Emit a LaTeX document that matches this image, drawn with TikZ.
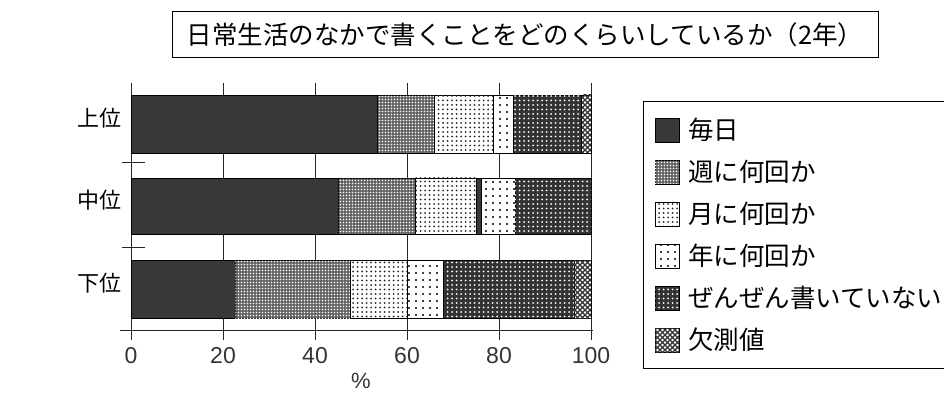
\documentclass[tikz,border=0pt]{standalone}
\usepackage{fontspec}
\newfontfamily\jp{Noto Sans CJK JP}
\newfontfamily\lat{Liberation Sans}
\usetikzlibrary{patterns}
\pgfdeclarepatternformonly{finedots}{\pgfpoint{-1pt}{-1pt}}{\pgfpoint{4pt}{4pt}}{\pgfpoint{3pt}{3pt}}{\pgfpathcircle{\pgfpoint{1.5pt}{1.5pt}}{0.8pt}\pgfusepath{fill}}
\pgfdeclarepatternformonly{meddots}{\pgfpoint{-1pt}{-1pt}}{\pgfpoint{5pt}{5pt}}{\pgfpoint{4.5pt}{4.5pt}}{\pgfpathcircle{\pgfpoint{2pt}{2pt}}{1pt}\pgfusepath{fill}}
\pgfdeclarepatternformonly{sparsedots}{\pgfpoint{-1pt}{-1pt}}{\pgfpoint{8pt}{8pt}}{\pgfpoint{7pt}{7pt}}{\pgfpathcircle{\pgfpoint{3pt}{3pt}}{1.1pt}\pgfusepath{fill}}
\pgfdeclarepatternformonly{xhatch}{\pgfpoint{-1pt}{-1pt}}{\pgfpoint{6pt}{6pt}}{\pgfpoint{5pt}{5pt}}{\pgfsetlinewidth{1.1pt}\pgfpathmoveto{\pgfpoint{0pt}{0pt}}\pgfpathlineto{\pgfpoint{5pt}{5pt}}\pgfpathmoveto{\pgfpoint{0pt}{5pt}}\pgfpathlineto{\pgfpoint{5pt}{0pt}}\pgfusepath{stroke}}
\newcommand\barseg[5]{\path[#5] ({131+4.6*#3},#1) rectangle ({131+4.6*#4},#2);}
\begin{document}
\begin{tikzpicture}[x=1pt,y=-1pt,
  seg/.style={draw=black,line width=0.9pt},
  pdaily/.style={seg,fill=black!78},
  pweek/.style={seg,fill=black!62,postaction={pattern=finedots,pattern color=white}},
  pmonth/.style={seg,fill=white,postaction={pattern=meddots,pattern color=black!85}},
  pyear/.style={seg,fill=white,postaction={pattern=sparsedots,pattern color=black}},
  pnever/.style={seg,fill=black!80,postaction={pattern=meddots,pattern color=white}},
  pmiss/.style={seg,fill=white,postaction={pattern=xhatch,pattern color=black!80}},
  grid/.style={line width=1pt,black!85},
  lab/.style={font=\jp\fontsize{22}{26}\selectfont,inner sep=0pt},
  num/.style={font=\lat\fontsize{23}{27}\selectfont,inner sep=0pt,black!80},
  leg/.style={font=\jp\fontsize{25.5}{30}\selectfont,inner sep=0pt,anchor=west},
  swatch/.style={minimum size=24pt,inner sep=0pt}]
\useasboundingbox (0,0) rectangle (944,395);
\clip (0,0) rectangle (944,395);
% title
\node[draw,line width=1pt,minimum width=706pt,minimum height=46pt,inner sep=0pt,
  font=\jp\fontsize{25.5}{30}\selectfont] (title) at (525,35) {日常生活のなかで書くことをどのくらいしているか（2年）};
% grid
\foreach \v in {0,20,40,60,80,100}{
  \draw[grid] ({131+4.6*\v},83) -- ({131+4.6*\v},340);
  \node[num] (n\v) at ({131+4.6*\v},356) {\v};
}
\draw[grid] (120,330) -- (593,330);
\draw[grid] (122,163) -- (145,163);
\draw[grid] (122,247) -- (145,247);
\node[font=\lat\fontsize{22}{26}\selectfont,inner sep=0pt,black!80] (pct) at (361,381) {\%};
% bars
\barseg{95}{153}{0}{53.6}{pdaily}
\barseg{95}{153}{53.6}{66}{pweek}
\barseg{95}{153}{66}{78.9}{pmonth}
\barseg{95}{153}{78.9}{83.2}{pyear}
\barseg{95}{153}{83.2}{98}{pnever}
\barseg{95}{153}{98}{100}{pmiss}
\barseg{178}{234}{0}{45}{pdaily}
\barseg{178}{234}{45}{61.9}{pweek}
\barseg{178}{234}{61.9}{75}{pmonth}
\barseg{178}{234}{75}{76.2}{pdaily}
\barseg{178}{234}{76.2}{83.5}{pyear}
\barseg{178}{234}{83.5}{100}{pnever}
\barseg{260}{318}{0}{22.7}{pdaily}
\barseg{260}{318}{22.7}{47.7}{pweek}
\barseg{260}{318}{47.7}{60}{pmonth}
\barseg{260}{318}{60}{68}{pyear}
\barseg{260}{318}{68}{96.3}{pnever}
\barseg{260}{318}{96.3}{100}{pmiss}
% row labels
\node[lab] (r1) at (99,118) {上位};
\node[lab] (r2) at (99,200) {中位};
\node[lab] (r3) at (99,283) {下位};
% legend
\draw[line width=1pt] (944,102) -- (643,102) -- (643,368) -- (944,368);
\node[swatch,pdaily] (s1) at (667,130) {};
\node[swatch,pweek] (s2) at (667,172) {};
\node[swatch,pmonth] (s3) at (667,214) {};
\node[swatch,pyear] (s4) at (667,256) {};
\node[swatch,pnever] (s5) at (667,298) {};
\node[swatch,pmiss] (s6) at (667,340) {};
\node[leg] (l1) at (688,130) {毎日};
\node[leg] (l2) at (688,172) {週に何回か};
\node[leg] (l3) at (688,214) {月に何回か};
\node[leg] (l4) at (688,256) {年に何回か};
\node[leg] (l5) at (688,298) {ぜんぜん書いていない};
\node[leg] (l6) at (688,340) {欠測値};
\end{tikzpicture}
\end{document}
